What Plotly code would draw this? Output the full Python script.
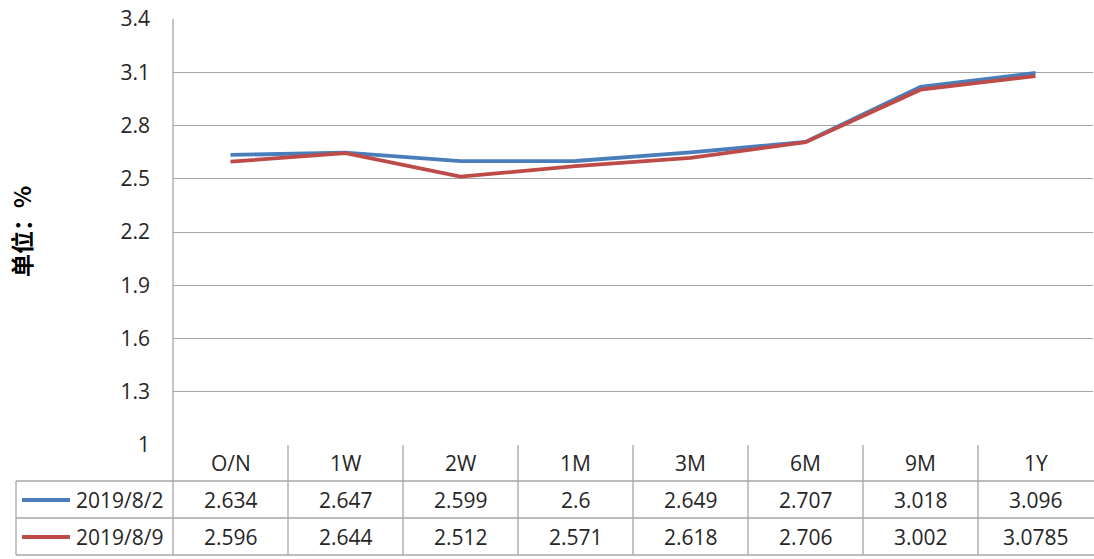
import plotly.graph_objects as go

# Tenors and yield curves (%)
tenors = ["O/N", "1W", "2W", "1M", "3M", "6M", "9M", "1Y"]
series_names = ["2019/8/2", "2019/8/9"]
curve_0802 = [2.634, 2.647, 2.599, 2.6, 2.649, 2.707, 3.018, 3.096]
curve_0809 = [2.596, 2.644, 2.512, 2.571, 2.618, 2.706, 3.002, 3.0785]
table_labels_0802 = ["2.634", "2.647", "2.599", "2.6", "2.649", "2.707", "3.018", "3.096"]
table_labels_0809 = ["2.596", "2.644", "2.512", "2.571", "2.618", "2.706", "3.002", "3.0785"]
y_ticks = [1, 1.3, 1.6, 1.9, 2.2, 2.5, 2.8, 3.1, 3.4]

colors = ["#4A7EBB", "#BE4B48"]
W, H = 1094, 559
FONT = "Open Sans"
TXT = "#262626"
GRID = "#A6A6A6"


def py(pix):
    """Convert a pixel row (from top) to paper y."""
    return 1 - pix / H


def px(pix):
    return pix / W


x_dom = [px(173), px(1093)]
y_dom = [py(445), py(19)]

fig = go.Figure()
for name, vals, col in zip(series_names, [curve_0802, curve_0809], colors):
    fig.add_trace(go.Scatter(
        x=list(range(len(tenors))), y=vals, name=name, mode="lines",
        line=dict(color=col, width=3.8), showlegend=False, hoverinfo="x+y",
    ))

shapes = []
# Vertical axis line running down through the data table
shapes.append(dict(type="line", xref="paper", yref="paper", x0=px(173), x1=px(173),
                   y0=py(19), y1=py(555), line=dict(color=GRID, width=1.3)))
# Table horizontal rules
for row_y in [481, 518, 555]:
    shapes.append(dict(type="line", xref="paper", yref="paper", x0=px(16), x1=1,
                       y0=py(row_y), y1=py(row_y), line=dict(color=GRID, width=1.3)))
shapes.append(dict(type="line", xref="paper", yref="paper", x0=px(16), x1=px(16),
                   y0=py(481), y1=py(555), line=dict(color=GRID, width=1.3)))
# Column separators between tenors
for i in range(1, len(tenors)):
    shapes.append(dict(type="line", xref="x", yref="paper", x0=i - 0.5, x1=i - 0.5,
                       y0=py(445), y1=py(555), line=dict(color=GRID, width=1.3)))
# Legend keys inside the table
for row_c, col in zip([500, 537], colors):
    shapes.append(dict(type="line", xref="paper", yref="paper", x0=px(22), x1=px(70),
                       y0=py(row_c), y1=py(row_c), line=dict(color=col, width=4)))

annotations = []
tf = dict(family=FONT, size=21, color=TXT)
for i, t in enumerate(tenors):
    annotations.append(dict(x=i, y=py(463), xref="x", yref="paper", text=t,
                            showarrow=False, font=tf, xanchor="center", yanchor="middle"))
for row_c, labels in zip([500, 537], [table_labels_0802, table_labels_0809]):
    for i, t in enumerate(labels):
        annotations.append(dict(x=i, y=py(row_c), xref="x", yref="paper", text=t,
                                showarrow=False, font=tf, xanchor="center", yanchor="middle"))
for row_c, name in zip([500, 537], series_names):
    annotations.append(dict(x=px(74), y=py(row_c), xref="paper", yref="paper", text=name,
                            showarrow=False, font=tf, xanchor="left", yanchor="middle"))
# Unit label
annotations.append(dict(x=px(21), y=py(232), xref="paper", yref="paper", text="<b>单位：%</b>",
                        textangle=-90, showarrow=False,
                        font=dict(family="Noto Sans CJK SC", size=23, color="#000000"),
                        xanchor="center", yanchor="middle"))

fig.update_layout(
    width=W, height=H,
    margin=dict(l=0, r=0, t=0, b=0, autoexpand=False),
    paper_bgcolor="white", plot_bgcolor="white",
    xaxis=dict(domain=x_dom, range=[-0.5, len(tenors) - 0.5], showgrid=False,
               showticklabels=False, zeroline=False, showline=False, fixedrange=True,
               automargin=False),
    yaxis=dict(domain=y_dom, range=[1, 3.4], tickvals=y_ticks,
               ticktext=[f"{v:g}" for v in y_ticks], showgrid=True, gridcolor=GRID,
               gridwidth=1.3, zeroline=False, showline=False, ticks="",
               ticklabelstandoff=22, automargin=False,
               tickfont=dict(family=FONT, size=21, color=TXT), fixedrange=True),
    shapes=shapes,
    annotations=annotations,
)

fig.write_html("out.html")
